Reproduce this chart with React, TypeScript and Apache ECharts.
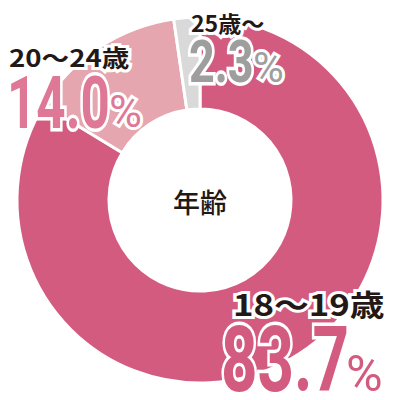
import { useEffect, useRef } from 'react';
import * as echarts from 'echarts';

// 年齢構成
const categories = ['18～19歳', '20～24歳', '25歳～'];
const shares = [83.7, 14.0, 2.3];
const centerTitle = '年齢';

const SLICE_COLORS = ['#d45b80', '#e6a6b0', '#d9d9d9'];
const LABEL_COLORS = ['#d45b80', '#df7896', '#9e9e9e'];
const INK = '#231815';
const NUM_FONT = 'Roboto, "DejaVu Sans", sans-serif';
const JP_FONT = '"Noto Sans CJK JP", "Noto Sans", sans-serif';

// label placement per slice: cat [x, y, size, scaleX], num [x, y, size, scaleX], pct [x, y, size]
const LAYOUT = [
  { cat: [233, 303, 30, 1.16], num: [221, 360, 91, 0.7], pct: [346, 374, 50] },
  { cat: [9, 56, 24, 1.15], num: [7, 103, 72, 0.71], pct: [109, 111, 45] },
  { cat: [191, 22, 22, 1.05], num: [189, 62, 60, 0.75], pct: [253, 67, 42] },
];

function labelGraphics() {
  const els: any[] = [];
  categories.forEach((name, i) => {
    const L = LAYOUT[i];
    const outline = { stroke: '#fff', lineWidth: 6 };
    els.push({
      type: 'text', x: L.cat[0], y: L.cat[1], scaleX: L.cat[3], z: 10,
      style: { text: name, fontSize: L.cat[2], fontFamily: JP_FONT, fontWeight: 'bold', fill: INK, align: 'left', verticalAlign: 'middle', ...outline },
    });
    els.push({
      type: 'text', x: L.num[0], y: L.num[1], scaleX: L.num[3], z: 10,
      style: { text: shares[i].toFixed(1), fontSize: L.num[2], fontFamily: NUM_FONT, fontWeight: 'bold', fill: LABEL_COLORS[i], align: 'left', verticalAlign: 'middle', ...outline, lineWidth: 7 },
    });
    els.push({
      type: 'text', x: L.pct[0], y: L.pct[1], z: 10,
      style: { text: '%', fontSize: L.pct[2], fontFamily: NUM_FONT, fontWeight: 'normal', fill: LABEL_COLORS[i], align: 'left', verticalAlign: 'middle', ...outline },
    });
  });
  els.push({
    type: 'text', x: 200, y: 201, z: 10,
    style: { text: centerTitle, fontSize: 27, fontFamily: JP_FONT, fontWeight: 500, fill: INK, align: 'center', verticalAlign: 'middle' },
  });
  return els;
}

export default function App() {
  const ref = useRef<HTMLDivElement>(null);

  useEffect(() => {
    document.body.style.margin = '0';
    if (!ref.current) return;
    const chart = echarts.init(ref.current, undefined, { renderer: 'svg' });
    chart.setOption({
      animation: false,
      backgroundColor: '#fff',
      series: [{
        type: 'pie',
        center: [200, 200],
        radius: [91, 183],
        startAngle: 90,
        clockwise: true,
        silent: true,
        label: { show: false },
        labelLine: { show: false },
        itemStyle: { borderColor: '#fff', borderWidth: 3 },
        data: categories.map((name, i) => ({ name, value: shares[i], itemStyle: { color: SLICE_COLORS[i] } })),
      }],
      graphic: labelGraphics(),
    });
    return () => chart.dispose();
  }, []);

  return <div ref={ref} style={{ width: 400, height: 400 }} />;
}
